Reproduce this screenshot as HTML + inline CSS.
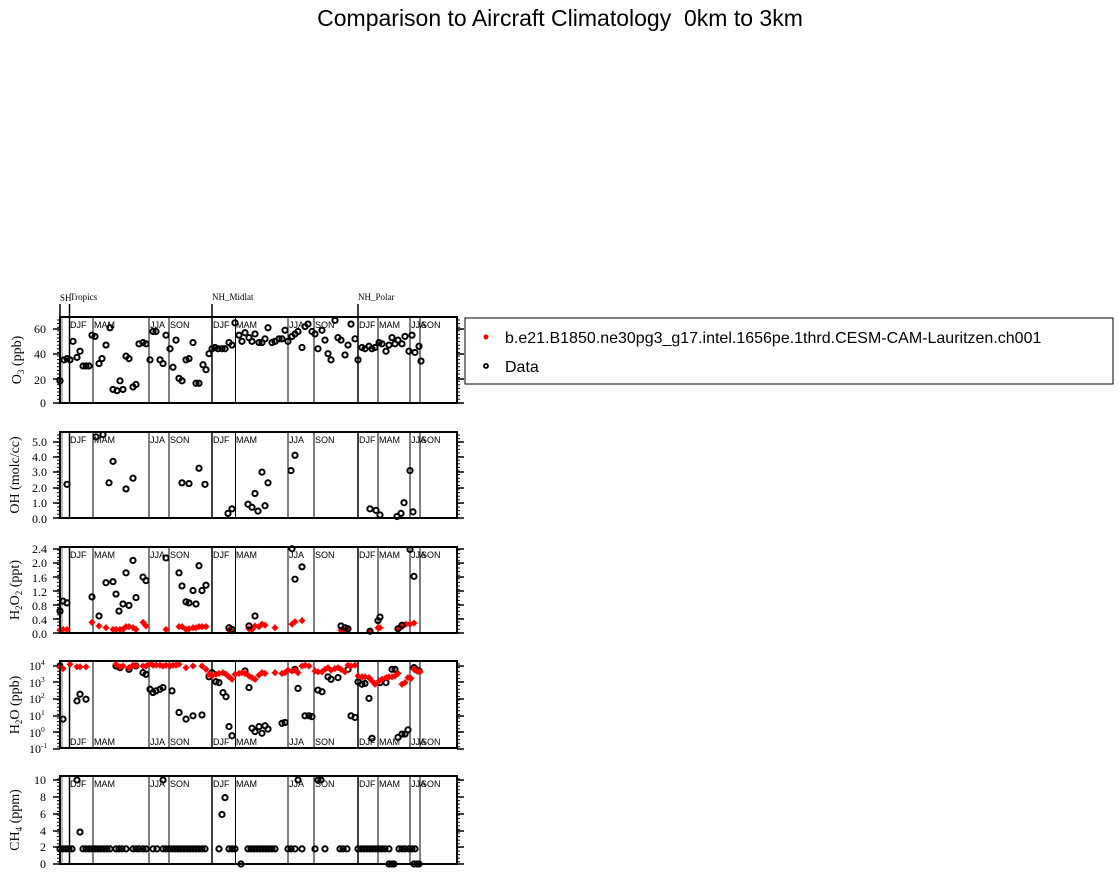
<!DOCTYPE html>
<html><head><meta charset="utf-8"><style>
html,body{margin:0;padding:0;background:#fff;}
svg{display:block;}
.s{font-family:"Liberation Sans",sans-serif;font-size:9px;}
.r{font-family:"Liberation Serif",serif;}
</style></head><body>
<svg id="g" width="1119" height="874" xmlns="http://www.w3.org/2000/svg">
<text x="560" y="26" text-anchor="middle" font-family="Liberation Sans, sans-serif" font-size="23" style="white-space:pre">Comparison to Aircraft Climatology&#160; 0km to 3km</text>
<text class="r" x="60" y="301" font-size="9">SH</text>
<text class="r" x="70" y="300" font-size="9">Tropics</text>
<text class="r" x="212" y="300" font-size="9">NH_Midlat</text>
<text class="r" x="358" y="300" font-size="9">NH_Polar</text>
<g stroke="#000" stroke-width="1.5"><line x1="60" y1="304" x2="60" y2="317"/><line x1="69.5" y1="304" x2="69.5" y2="317"/><line x1="212" y1="304" x2="212" y2="317"/><line x1="358" y1="304" x2="358" y2="317"/></g>
<text class="r" font-size="14" transform="translate(21,360) rotate(-90)" text-anchor="middle">O<tspan font-size="9" dy="3">3</tspan><tspan dy="-3"> (ppb)</tspan></text>
<text class="r" font-size="14" transform="translate(19,475) rotate(-90)" text-anchor="middle">OH (molc/cc)</text>
<text class="r" font-size="14" transform="translate(19,590) rotate(-90)" text-anchor="middle">H<tspan font-size="9" dy="3">2</tspan><tspan dy="-3">O</tspan><tspan font-size="9" dy="3">2</tspan><tspan dy="-3"> (ppt)</tspan></text>
<text class="r" font-size="14" transform="translate(19,705) rotate(-90)" text-anchor="middle">H<tspan font-size="9" dy="3">2</tspan><tspan dy="-3">O (ppb)</tspan></text>
<text class="r" font-size="14" transform="translate(19,820) rotate(-90)" text-anchor="middle">CH<tspan font-size="9" dy="3">4</tspan><tspan dy="-3"> (ppm)</tspan></text>
<g class="r" font-size="12" text-anchor="end">
<text x="46" y="407">0</text><text x="46" y="384">20</text><text x="46" y="358">40</text><text x="46" y="333">60</text>
<text x="47" y="523">0.0</text><text x="47" y="507">1.0</text><text x="47" y="492">2.0</text><text x="47" y="476">3.0</text><text x="47" y="461">4.0</text><text x="47" y="446">5.0</text>
<text x="47" y="638">0.0</text><text x="47" y="624">0.4</text><text x="47" y="610">0.8</text><text x="47" y="596">1.2</text><text x="47" y="582">1.6</text><text x="47" y="567">2.0</text><text x="47" y="553">2.4</text>
<text x="46" y="868">0</text><text x="46" y="851">2</text><text x="46" y="835">4</text><text x="46" y="818">6</text><text x="46" y="801">8</text><text x="46" y="784">10</text>
</g>
<g class="r" font-size="12" text-anchor="end">
<text x="41" y="670">10</text><text x="41" y="687">10</text><text x="41" y="703">10</text><text x="41" y="720">10</text><text x="41" y="737">10</text><text x="41" y="753">10</text>
</g>
<g class="r" font-size="7.5">
<text x="41" y="665">4</text><text x="41" y="682">3</text><text x="41" y="698">2</text><text x="41" y="715">1</text><text x="41" y="732">0</text><text x="41" y="748">-1</text>
</g>
<rect x="465" y="318" width="648" height="66" fill="none" stroke="#000" stroke-width="1"/>
<circle cx="486" cy="337" r="2.5" fill="#f00"/>
<text x="505" y="343" font-family="Liberation Sans, sans-serif" font-size="16">b.e21.B1850.ne30pg3_g17.intel.1656pe.1thrd.CESM-CAM-Lauritzen.ch001</text>
<circle cx="486" cy="366" r="2" fill="none" stroke="#000" stroke-width="1.8"/>
<text x="505" y="372" font-family="Liberation Sans, sans-serif" font-size="16">Data</text>
</svg>
<script>
var S=document.getElementById('g'),NS='http://www.w3.org/2000/svg';
function el(t,a,txt){var e=document.createElementNS(NS,t);for(var k in a)e.setAttribute(k,a[k]);if(txt)e.textContent=txt;S.appendChild(e);return e;}
var panels=[[317,403],[432,518],[547,633],[661,748],[776,864]];
var seas=[93,149,169,235.5,288,314,378,410,420], regs=[69.5,212,358];
var sx=[70,94,150,170,213,236,289,315,359,379,411,421],sn=['DJF','MAM','JJA','SON','DJF','MAM','JJA','SON','DJF','MAM','JJA','SON'];
panels.forEach(function(p,i){
 el('rect',{x:60,y:p[0],width:3,height:p[1]-p[0],fill:'#bbb'});
 seas.forEach(function(x){el('line',{x1:x,y1:p[0],x2:x,y2:p[1],stroke:'#000','stroke-width':1});});
 regs.forEach(function(x){el('line',{x1:x,y1:p[0],x2:x,y2:p[1],stroke:'#000','stroke-width':1.5});});
 for(var y=p[0]+3;y<p[1];y+=3.6){el('line',{x1:60,y1:y,x2:57,y2:y,stroke:'#000','stroke-width':1});el('line',{x1:457,y1:y,x2:460,y2:y,stroke:'#000','stroke-width':1});}
 var ty=i==3?p[1]-3:p[0]+11;
 sx.forEach(function(x,j){el('text',{x:x,y:ty,'class':'s'},sn[j]);});
});
function mj(p,ys){ys.forEach(function(y){el('line',{x1:53,y1:y,x2:60,y2:y,stroke:'#000','stroke-width':1.5});el('line',{x1:457,y1:y,x2:464,y2:y,stroke:'#000','stroke-width':1.5});});}
mj(0,[403,379,354,329]);mj(1,[518,503,488,472,457,442]);mj(2,[633,619,605,591,577,563,549]);mj(3,[666,682,699,716,732,749]);mj(4,[864,847,831,814,797,780]);
function blk(x,y){el('circle',{cx:x,cy:y,r:2.6,fill:'none',stroke:'#000','stroke-width':2});}
function red(x,y){el('circle',{cx:x,cy:y,r:2.6,fill:'#f00'});el('path',{d:'M'+(x-3.3)+' '+y+'h6.6M'+x+' '+(y-3.3)+'v6.6',stroke:'#f00','stroke-width':1.4});}
var o3=[[60,18],[64,35],[67,36],[70,35],[73,50],[77,37],[80,42],[83,30],[86,30],[89,30],[92,55],[95,54],[99,32],[102,36],[106,47],[110,61],[113,11],[117,10],[120,18],[123,11],[126,38],[129,36],[133,13],[136,15],[139,48],[143,49],[146,48],[150,35],[153,58],[156,58],[160,35],[163,32],[166,55],[170,44],[173,29],[176,51],[179,20],[182,18],[186,35],[189,36],[193,49],[196,16],[199,16],[203,31],[206,27],[209,40],[212,44],[215,45],[218,44],[222,44],[225,44],[229,49],[232,47],[235,65],[239,55],[242,50],[245,57],[249,53],[252,50],[255,56],[259,49],[262,49],[265,52],[268,61],[272,49],[275,50],[279,52],[282,52],[285,59],[288,50],[292,54],[295,56],[298,58],[302,45],[305,62],[308,64],[312,58],[315,56],[318,44],[322,59],[325,51],[328,40],[331,35],[335,67],[338,53],[341,51],[345,39],[348,47],[351,64],[355,52],[358,35],[362,45],[365,44],[369,46],[372,44],[375,45],[379,49],[382,48],[386,42],[389,47],[392,53],[395,48],[398,51],[402,48],[405,54],[409,42],[412,55],[415,41],[419,46],[421,34]];
o3.forEach(function(d){blk(d[0],403-d[1]*1.233);});
var oh=[[67,2.2],[96,5.3],[103,5.45],[109,2.3],[113,3.7],[126,1.9],[133,2.6],[182,2.3],[189,2.25],[199,3.25],[205,2.2],[228,0.3],[232,0.6],[248,0.9],[252,0.7],[255,1.6],[258,0.45],[262,3.0],[265,0.8],[268,2.3],[291,3.1],[295,4.1],[370,0.6],[376,0.5],[380,0.2],[397,0.1],[401,0.3],[404,1.0],[410,3.1],[413,0.4]];
oh.forEach(function(d){blk(d[0],518-d[1]*15.3);});
var h2r=[[60,0.08],[63,0.1],[67,0.1],[92,0.3],[99,0.2],[106,0.15],[113,0.1],[116,0.1],[120,0.1],[123,0.1],[126,0.18],[129,0.18],[133,0.15],[136,0.1],[143,0.3],[146,0.2],[166,0.1],[179,0.18],[182,0.18],[186,0.1],[189,0.12],[193,0.15],[196,0.15],[199,0.18],[202,0.18],[206,0.18],[229,0.08],[232,0.05],[249,0.12],[252,0.1],[255,0.2],[259,0.18],[262,0.25],[265,0.22],[275,0.15],[292,0.25],[295,0.32],[302,0.35],[341,0.08],[345,0.08],[348,0.1],[370,0.05],[378,0.15],[380,0.15],[398,0.1],[402,0.18],[406,0.25],[410,0.25],[414,0.28]];
h2r.forEach(function(d){red(d[0],633-d[1]*35.4);});
var h2b=[[60,0.62],[63,0.9],[67,0.85],[92,1.02],[99,0.48],[106,1.42],[113,1.45],[116,1.1],[119,0.62],[123,0.82],[126,1.7],[129,0.78],[133,2.05],[136,1.0],[143,1.58],[146,1.48],[166,2.12],[179,1.7],[182,1.33],[186,0.88],[189,0.85],[193,1.2],[196,0.82],[199,1.9],[202,1.2],[206,1.35],[229,0.15],[232,0.1],[249,0.2],[255,0.48],[292,2.38],[295,1.52],[302,1.87],[341,0.2],[345,0.15],[348,0.12],[370,0.05],[378,0.35],[380,0.45],[398,0.12],[402,0.22],[410,2.36],[414,1.6]];
h2b.forEach(function(d){blk(d[0],633-d[1]*35.4);});
function ly(l){return 666+(4-l)*16.6;}
var wr=[[60,3.95],[63,3.85],[70,4.1],[77,3.95],[80,3.95],[86,3.95],[116,4.1],[120,3.95],[123,4.0],[129,3.9],[133,4.05],[136,4.0],[143,4.0],[146,4.0],[150,4.15],[153,4.05],[156,4.05],[160,4.05],[163,4.0],[166,4.05],[170,4.0],[173,4.05],[176,4.05],[179,4.1],[186,3.9],[193,4.0],[202,4.0],[206,3.8],[209,3.5],[212,3.4],[216,3.5],[219,3.55],[223,3.6],[226,3.5],[229,3.35],[232,3.2],[235,3.5],[239,3.55],[242,3.6],[245,3.55],[249,3.4],[252,3.3],[255,3.2],[259,3.45],[262,3.6],[265,3.55],[275,3.6],[282,3.55],[285,3.6],[288,3.75],[292,3.7],[295,3.75],[298,3.6],[302,4.0],[305,4.05],[309,4.0],[315,3.7],[318,3.65],[322,3.65],[325,3.8],[328,3.9],[331,3.75],[335,3.85],[338,3.9],[341,3.8],[345,3.65],[348,4.05],[351,4.0],[355,4.05],[358,3.4],[362,3.35],[365,3.35],[369,3.3],[372,3.1],[375,2.9],[379,3.1],[382,3.2],[386,3.3],[389,3.35],[392,3.35],[395,3.4],[398,3.55],[402,2.9],[405,3.0],[408,3.3],[411,3.25],[414,3.8],[417,3.7],[420,3.65]];
var wb=[[60,4.0],[63,0.8],[77,1.9],[80,2.3],[86,2.0],[116,4.0],[120,3.9],[129,3.8],[136,4.0],[143,3.6],[146,3.5],[150,2.6],[153,2.4],[156,2.5],[160,2.6],[163,2.7],[172,2.5],[179,1.2],[186,0.8],[193,1.0],[202,1.05],[209,3.35],[212,3.6],[216,3.05],[219,3.0],[223,2.4],[226,2.15],[229,0.35],[232,-0.2],[245,3.7],[249,2.7],[252,0.25],[255,0.05],[259,0.35],[262,-0.05],[265,0.4],[268,0.2],[282,0.55],[285,0.6],[295,3.8],[298,2.65],[305,1.0],[309,1.0],[312,0.95],[318,2.55],[322,2.45],[328,3.35],[331,3.2],[338,3.3],[348,3.8],[351,1.0],[355,0.9],[358,3.05],[362,2.9],[365,2.95],[369,2.05],[372,-0.35],[380,3.0],[386,3.0],[392,3.8],[395,3.8],[398,-0.3],[402,-0.1],[405,-0.1],[408,0.15],[414,3.9],[417,3.75],[419,3.7]];
wb.forEach(function(d){blk(d[0],ly(d[1]));});
wr.forEach(function(d){red(d[0],ly(d[1]));});
var ch=[[77,10],[80,3.8],[163,10],[222,5.9],[225,7.9],[241,0],[298,10],[318,10],[321,10],[389,0],[392,0],[394,0],[414,0],[417,0],[419,0]];
var cx=[60,63,66,69,72,83,86,89,92,95,98,101,104,107,110,116,119,122,126,133,136,139,143,146,153,157,163,166,169,172,175,178,181,184,187,190,193,196,199,202,205,219,229,232,235,248,251,254,257,260,263,266,269,272,275,288,291,295,302,315,325,340,343,347,358,361,364,367,370,373,376,379,382,385,389,399,402,405,409,412,415];
cx.forEach(function(x){blk(x,864-1.8*8.4);});
ch.forEach(function(d){blk(d[0],864-d[1]*8.4);});
panels.forEach(function(p){el('rect',{x:60,y:p[0],width:397,height:p[1]-p[0],fill:'none',stroke:'#000','stroke-width':2});});
</script>
</body></html>
